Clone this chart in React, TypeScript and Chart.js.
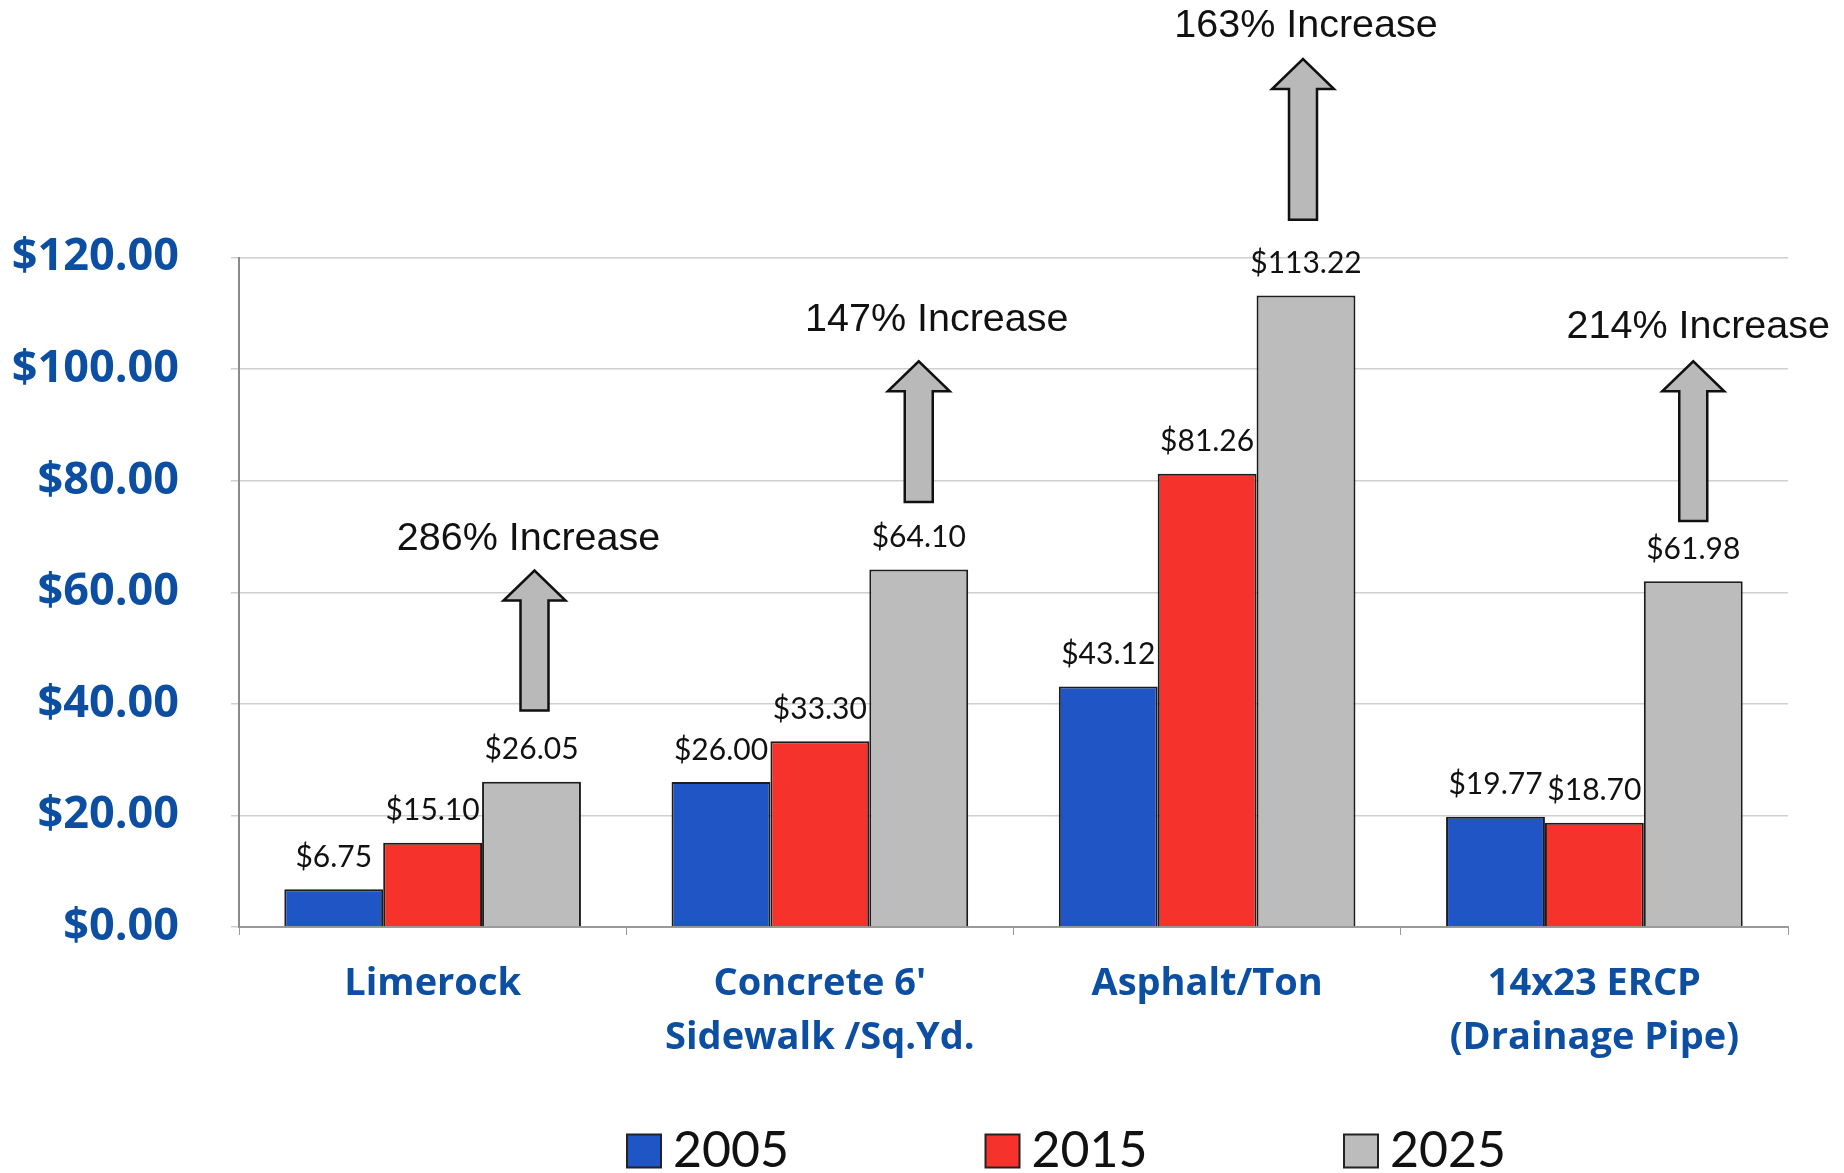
import React, { useEffect, useRef } from "react";
import { Chart, registerables } from "chart.js";

Chart.register(...registerables);

// ---- Data ----
const categories: (string | string[])[] = [
  "Limerock",
  ["Concrete 6'", "Sidewalk /Sq.Yd."],
  "Asphalt/Ton",
  ["14x23 ERCP", "(Drainage Pipe)"],
];
const seriesNames = ["2005", "2015", "2025"];
const values2005 = [6.75, 26.0, 43.12, 19.77];
const values2015 = [15.1, 33.3, 81.26, 18.7];
const values2025 = [26.05, 64.1, 113.22, 61.98];
const yTickValues = [0, 20, 40, 60, 80, 100, 120];
const increaseLabels = ["286% Increase", "147% Increase", "163% Increase", "214% Increase"];
// annotation arrow extents (in value units of the y axis)
const arrowBase = [38.8, 76.2, 126.8, 72.8];
const arrowTip = [63.9, 101.4, 155.6, 101.4];
const increaseLabelY = [69.6, 108.8, 161.5, 107.6];

// ---- Styles ----
const AXIS_BLUE = "#0b4ea2";
const COLORS = ["#1f55c4", "#f5322b", "#bcbcbc"];
const LABEL_DX = [-3, 18, 0, 5];
const ARROW_DX = [3, 0, -3, 0];

const annotationPlugin = {
  id: "valueAndArrows",
  afterDatasetsDraw(chart: any) {
    const ctx = chart.ctx as CanvasRenderingContext2D;
    const yScale = chart.scales.y;
    chart.data.datasets.forEach((ds: any, di: number) => {
      const meta = chart.getDatasetMeta(di);
      meta.data.forEach((bar: any, i: number) => {
        const v = ds.data[i] as number;
        ctx.save();
        ctx.font = "30px Lato";
        ctx.fillStyle = "#111";
        ctx.textAlign = "center";
        ctx.textBaseline = "middle";
        ctx.fillText("$" + v.toFixed(2), bar.x, bar.y - 32);
        ctx.restore();
      });
    });
    const meta = chart.getDatasetMeta(2);
    meta.data.forEach((bar: any, i: number) => {
      const x = bar.x + ARROW_DX[i];
      const yb = yScale.getPixelForValue(arrowBase[i]);
      const yt = yScale.getPixelForValue(arrowTip[i]);
      const headDepth = 30;
      const headHalf = 31;
      const shaftHalf = 14;
      ctx.save();
      ctx.beginPath();
      ctx.moveTo(x - shaftHalf, yb);
      ctx.lineTo(x - shaftHalf, yt + headDepth);
      ctx.lineTo(x - headHalf, yt + headDepth);
      ctx.lineTo(x, yt);
      ctx.lineTo(x + headHalf, yt + headDepth);
      ctx.lineTo(x + shaftHalf, yt + headDepth);
      ctx.lineTo(x + shaftHalf, yb);
      ctx.closePath();
      ctx.fillStyle = "#b9b9b9";
      ctx.fill();
      ctx.lineWidth = 2.5;
      ctx.strokeStyle = "#111";
      ctx.lineJoin = "miter";
      ctx.stroke();
      ctx.font = "39.5px 'Liberation Sans', Arial, sans-serif";
      ctx.fillStyle = "#111";
      ctx.textAlign = "center";
      ctx.textBaseline = "middle";
      ctx.fillText(increaseLabels[i], bar.x + LABEL_DX[i], yScale.getPixelForValue(increaseLabelY[i]));
      ctx.restore();
    });
  },
};

const legendPlugin = {
  id: "customLegend",
  afterDraw(chart: any) {
    const ctx = chart.ctx as CanvasRenderingContext2D;
    const startX = 627;
    const step = 358.5;
    const cy = 1151;
    chart.data.datasets.forEach((ds: any, i: number) => {
      const bx = startX + i * step;
      ctx.save();
      ctx.fillStyle = ds.backgroundColor;
      ctx.fillRect(bx, cy - 16.5, 34, 33);
      ctx.lineWidth = 2;
      ctx.strokeStyle = "#222";
      ctx.strokeRect(bx, cy - 16.5, 34, 33);
      ctx.font = "50px Lato";
      ctx.fillStyle = "#111";
      ctx.textAlign = "left";
      ctx.textBaseline = "middle";
      ctx.fillText(ds.label, bx + 46, cy);
      ctx.restore();
    });
  },
};

export default function App() {
  const canvasRef = useRef<HTMLCanvasElement | null>(null);

  useEffect(() => {
    if (!canvasRef.current) return;
    const series = [values2005, values2015, values2025];
    const chart = new Chart(canvasRef.current, {
      type: "bar",
      data: {
        labels: categories as any,
        datasets: series.map((vals, i) => ({
          label: seriesNames[i],
          data: vals,
          backgroundColor: COLORS[i],
          borderColor: "#1c1c1c",
          borderWidth: 2,
          borderSkipped: "bottom" as any,
          categoryPercentage: 0.766,
          barPercentage: 1,
        })),
      },
      options: {
        responsive: false,
        animation: false,
        layout: { padding: { top: 257.6, right: 56, bottom: 96, left: 0 } },
        plugins: {
          legend: { display: false },
          tooltip: { enabled: false },
        },
        scales: {
          x: {
            grid: {
              offset: true,
              drawOnChartArea: false,
              drawTicks: true,
              tickLength: 8,
              color: "#9a9a9a",
            },
            border: { display: true, color: "#9a9a9a", width: 2 },
            ticks: {
              color: AXIS_BLUE,
              font: { family: "'Open Sans'", weight: "bold", size: 38, lineHeight: 1.42 },
              padding: 22,
              maxRotation: 0,
              autoSkip: false,
            },
            afterFit(scale: any) {
              scale.height = 150;
            },
          },
          y: {
            min: 0,
            max: 120,
            afterBuildTicks(scale: any) {
              scale.ticks = yTickValues.map((v) => ({ value: v }));
            },
            grid: {
              color: "#cfcfcf",
              lineWidth: 1.5,
              drawTicks: true,
              tickLength: 8,
            },
            border: { display: true, color: "#8a8a8a", width: 2 },
            ticks: {
              color: AXIS_BLUE,
              font: { family: "'Open Sans'", weight: "bold", size: 45 },
              padding: 52,
              callback: (v: any) => "$" + Number(v).toFixed(2),
            },
            afterFit(scale: any) {
              scale.width = 239;
            },
          },
        },
      },
      plugins: [annotationPlugin, legendPlugin],
    });
    return () => chart.destroy();
  }, []);

  return (
    <div style={{ position: "absolute", left: 0, top: 0, width: 1844, height: 1173, background: "#fff" }}>
      <canvas ref={canvasRef} width={1844} height={1173} style={{ display: "block" }} />
    </div>
  );
}
